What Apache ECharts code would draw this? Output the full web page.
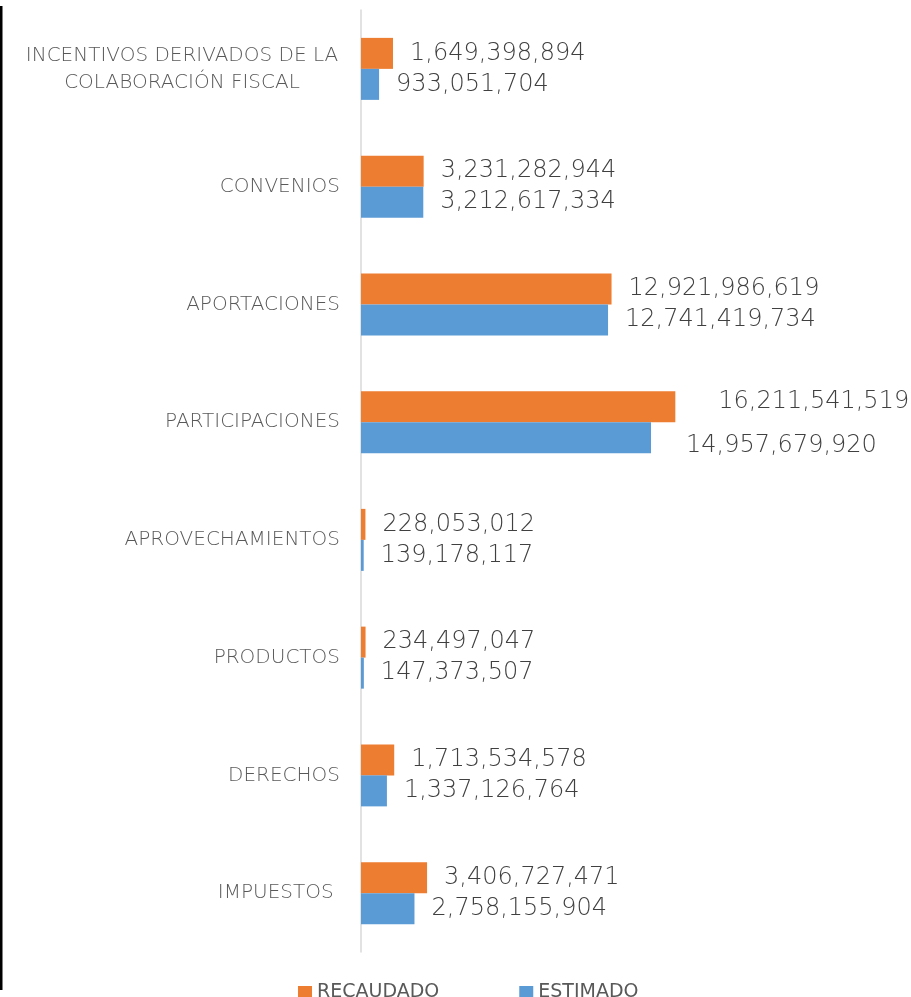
<!DOCTYPE html>
<html>
<head>
<meta charset="utf-8">
<script src="https://cdn.jsdelivr.net/npm/echarts@6/dist/echarts.min.js"></script>
<style>
html,body{margin:0;padding:0;background:#fff;}
#c{width:911px;height:997px;}
</style>
</head>
<body>
<div id="c"></div>
<script>
// categories bottom -> top
var categories = ['IMPUESTOS ', 'DERECHOS', 'PRODUCTOS', 'APROVECHAMIENTOS', 'PARTICIPACIONES', 'APORTACIONES', 'CONVENIOS', 'INCENTIVOS DERIVADOS DE LA\nCOLABORACIÓN FISCAL'];
var recaudado = [3406727471, 1713534578, 234497047, 228053012, 16211541519, 12921986619, 3231282944, 1649398894];
var estimado = [2758155904, 1337126764, 147373507, 139178117, 14957679920, 12741419734, 3212617334, 933051704];
var seriesNames = ['RECAUDADO', 'ESTIMADO'];
var axisMax = 18000000000;

function fmt(v) { return v.toLocaleString('en-US'); }

var labelBase = { show: true, position: 'right', distance: 17, color: '#404040', fontSize: 24, fontFamily: 'DejaVu Sans', fontWeight: 300 };

function buildData(arr, isRec) {
  return arr.map(function (v, i) {
    if (categories[i] === 'PARTICIPACIONES') {
      return { value: v, label: { offset: isRec ? [26, -5] : [18, 8] } };
    }
    return v;
  });
}

var chart = echarts.init(document.getElementById('c'));
chart.setOption({
  animation: false,
  backgroundColor: '#fff',
  grid: { left: 361, right: 201, top: 10, bottom: 45, containLabel: false },
  xAxis: { type: 'value', min: 0, max: axisMax, show: false, splitLine: { show: false } },
  yAxis: {
    type: 'category',
    data: categories,
    axisLine: { show: true, lineStyle: { color: '#d9d9d9', width: 1.5 } },
    axisTick: { show: false },
    axisLabel: {
      margin: 21,
      color: '#595959',
      fontSize: 20,
      fontFamily: 'DejaVu Sans',
      fontWeight: 300,
      formatter: function (v) {
        if (v.indexOf('\n') >= 0) {
          return v.split('\n').map(function (s) { return '{c|' + s + '}'; }).join('\n');
        }
        return v;
      },
      rich: {
        c: { width: 316, align: 'center', color: '#595959', fontSize: 20, fontFamily: 'DejaVu Sans', fontWeight: 300, lineHeight: 27 }
      }
    }
  },
  legend: {
    data: seriesNames,
    left: 293,
    top: 978,
    itemWidth: 14,
    itemHeight: 13,
    itemGap: 80,
    icon: 'rect',
    textStyle: { color: '#595959', fontSize: 19, fontFamily: 'DejaVu Sans', lineHeight: 19 }
  },
  graphic: [
    { type: 'rect', shape: { x: 0, y: 6, width: 2.5, height: 984 }, style: { fill: '#000' }, silent: true }
  ],
  series: [
    {
      name: seriesNames[0], type: 'bar', data: buildData(recaudado, true),
      barWidth: 31, barGap: '0%',
      itemStyle: { color: '#ED7D31' },
      label: Object.assign({}, labelBase, { formatter: function (p) { return fmt(p.value); } })
    },
    {
      name: seriesNames[1], type: 'bar', data: buildData(estimado, false),
      barWidth: 31, barGap: '0%',
      itemStyle: { color: '#5B9BD5' },
      label: Object.assign({}, labelBase, { formatter: function (p) { return fmt(p.value); } })
    }
  ]
});
</script>
</body>
</html>
